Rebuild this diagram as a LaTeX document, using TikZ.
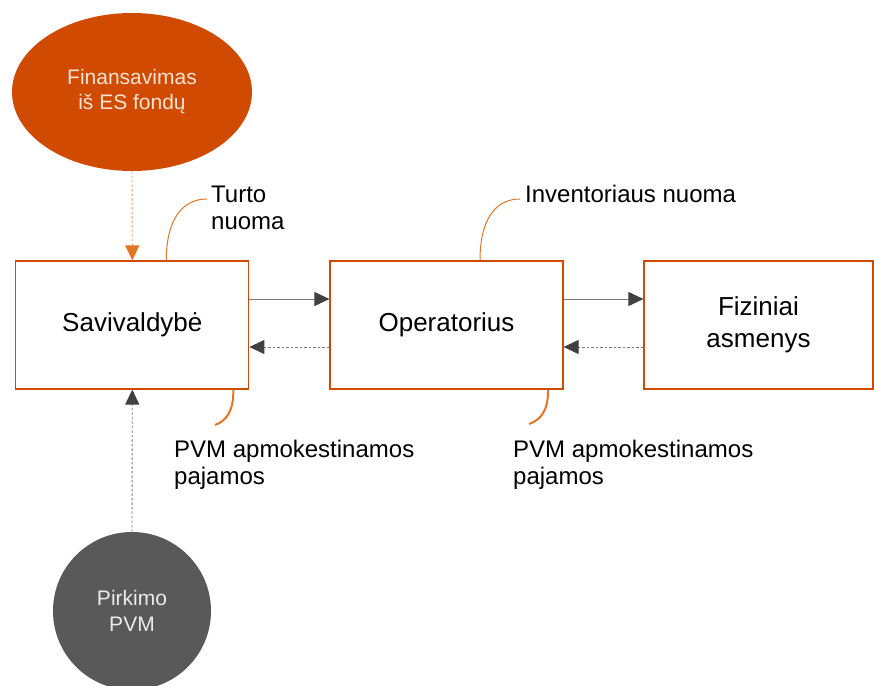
\documentclass[tikz,border=0pt]{standalone}
\usepackage{fontspec}
\setmainfont{Liberation Sans}
\usetikzlibrary{arrows.meta,shapes.geometric}
\definecolor{pwc}{RGB}{208,74,2}
\definecolor{calloutc}{RGB}{226,118,36}
\definecolor{darkg}{RGB}{89,89,89}
\definecolor{arrowg}{RGB}{64,64,64}
\definecolor{lineg}{RGB}{120,120,120}
\definecolor{lightorange}{RGB}{234,150,90}
\definecolor{ellipsetext}{RGB}{250,228,212}
\begin{document}
\begin{tikzpicture}[x=1pt,y=-1pt,
  box/.style={draw=pwc, line width=1.2pt, fill=white, minimum height=128pt,
    inner sep=0pt, font=\fontsize{26}{32}\selectfont, align=center},
  lbl/.style={font=\fontsize{24}{27}\selectfont, inner sep=0pt, align=left},
  flow/.style={-{Triangle[length=15pt,width=14pt,color=arrowg]}, draw=lineg, line width=0.9pt},
  dotflow/.style={flow, dash pattern=on 2.5pt off 2pt},
  orangeflow/.style={-{Triangle[length=15pt,width=14pt,color=calloutc]}, draw=lightorange,
    line width=0.9pt, dash pattern=on 2.5pt off 2pt},
  calloutup/.style={draw=calloutc, line width=1pt},
  calloutdown/.style={draw=calloutc, line width=2pt}
]
\useasboundingbox (0,0) rectangle (874,685);

% top ellipse and bottom circle
\node[ellipse, fill=pwc, minimum width=240pt, minimum height=158pt, inner sep=0pt,
  text=ellipsetext, font=\fontsize{21}{25}\selectfont, align=center] (fin) at (132,92)
  {Finansavimas\\iš ES fondų};
\node[circle, fill=darkg, minimum size=158pt, inner sep=0pt,
  text=white!92!black, font=\fontsize{21}{26}\selectfont, align=center] (pir) at (132,611)
  {Pirkimo\\PVM};

% boxes
\node[box, minimum width=233pt] (sav) at (132.3,325) {Savivaldybė};
\node[box, minimum width=233pt] (op) at (446.5,325) {Operatorius};
\node[box, minimum width=229pt] (fiz) at (758.5,325) {Fiziniai\\asmenys};

% connectors between boxes
\draw[flow] ([yshift=26pt]sav.east) -- ([yshift=26pt]op.west);
\draw[dotflow] ([yshift=-22pt]op.west) -- ([yshift=-22pt]sav.east);
\draw[flow] ([yshift=26pt]op.east) -- ([yshift=26pt]fiz.west);
\draw[dotflow] ([yshift=-22pt]fiz.west) -- ([yshift=-22pt]op.east);

% vertical connectors
\draw[orangeflow] (fin.south) -- (sav.north);
\draw[dotflow] (pir.north) -- (sav.south);

% labels
\node[lbl, anchor=north west] (turto) at (211,185.5) {Turto\\nuoma};
\node[lbl, anchor=base west] (inv) at (525,202) {Inventoriaus nuoma};
\node[lbl, anchor=north west] (pvm1) at (174,440) {PVM apmokestinamos\\pajamos};
\node[lbl, anchor=north west] (pvm2) at (513,440) {PVM apmokestinamos\\pajamos};

% callout lines
\draw[calloutup] ([xshift=34pt]sav.north) .. controls +(0,-42) and +(-24,0) .. ([shift={(-4,13.5)}]turto.north west);
\draw[calloutup] ([xshift=33.5pt]op.north) .. controls +(0,-42) and +(-24,0) .. ([shift={(-5,-3)}]inv.base west);
\draw[calloutdown] ([xshift=101pt]sav.south) .. controls +(0.5,22) and +(11,-4) .. ([shift={(41,-15)}]pvm1.north west);
\draw[calloutdown] ([xshift=101.5pt]op.south) .. controls +(0.5,22) and +(11,-4) .. ([shift={(16,-16)}]pvm2.north west);
\end{tikzpicture}
\end{document}
